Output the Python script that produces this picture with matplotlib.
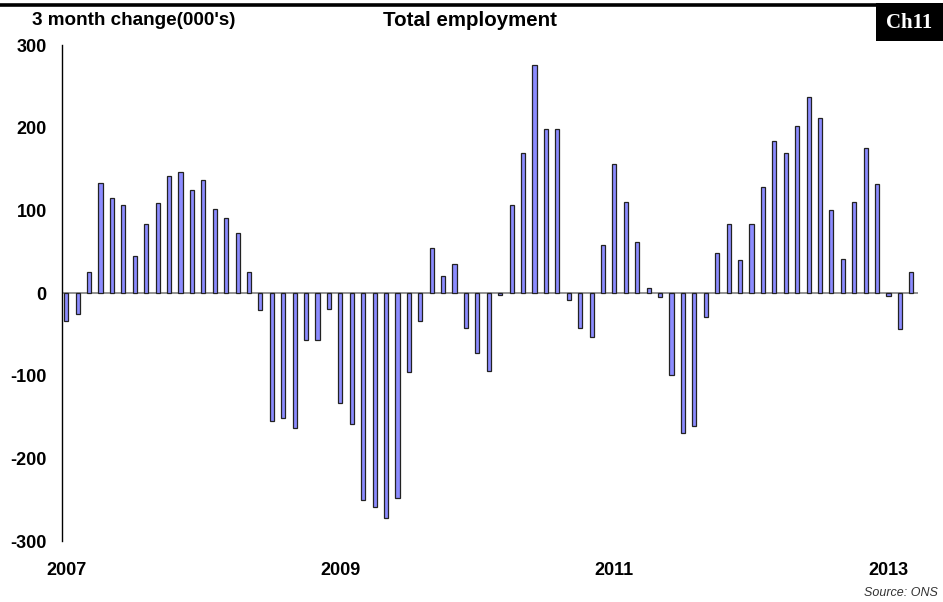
import numpy as np
import matplotlib
matplotlib.use("Agg")
import matplotlib.pyplot as plt
from matplotlib.patches import Rectangle
from matplotlib.lines import Line2D

# monthly 3 month change in total employment, Jan 2007 - Mar 2013 (000's)
changes = [
    -34, -25, 26, 133, 115, 107, 45, 84, 109, 141, 147, 125,
    137, 102, 91, 73, 26, -21, -155, -151, -163, -57, -57, -19,
    -133, -158, -250, -259, -272, -248, -95, -34, 54, 20, 35, -42,
    -73, -94, -2, 107, 169, 276, 199, 199, -9, -42, -53, 58,
    156, 110, 62, 6, -5, -99, -169, -161, -29, 48, 84, 40,
    83, 128, 184, 169, 202, 237, 212, 100, 41, 110, 175, 132,
    -3, -43, 25,
]
year_labels = ["2007", "2009", "2011", "2013"]
year_pos = [0, 24, 48, 72]
y_ticks = [-300, -200, -100, 0, 100, 200, 300]

plt.rcParams['font.family'] = ['Liberation Sans', 'DejaVu Sans']

fig = plt.figure(figsize=(9.43, 6.02), dpi=100)
ax = fig.add_axes([0.0657, 0.1013, 0.9075, 0.8239])

x = np.arange(len(changes))
ax.bar(x, changes, width=0.36, color='#8c8cff', edgecolor='#222222', linewidth=0.9, zorder=3)
ax.axhline(0, color='#8a8a8a', lw=1.3, zorder=2)

ax.set_xlim(-0.38, len(changes) - 0.44)
ax.set_ylim(-300, 300)

for s in ['top', 'right', 'bottom']:
    ax.spines[s].set_visible(False)
ax.spines['left'].set_linewidth(1.0)

ax.set_yticks(y_ticks)
ax.set_yticklabels([str(v) for v in y_ticks], fontsize=13, fontweight='bold')
ax.tick_params(axis='y', length=0, pad=11)
ax.set_xticks(year_pos)
ax.set_xticklabels(year_labels, fontsize=13, fontweight='bold')
ax.tick_params(axis='x', length=0, pad=15)

# header: rule, titles and chart number box
fig.add_artist(Line2D([0, 0.93], [0.9915, 0.9915], color='black', lw=2.6))
fig.text(0.034, 0.966, "3 month change(000's)", fontsize=13.6, fontweight='bold', va='center')
fig.text(0.498, 0.966, "Total employment", fontsize=14.8, fontweight='bold', va='center', ha='center')
fig.add_artist(Rectangle((0.929, 0.932), 0.071, 0.063, transform=fig.transFigure,
                         facecolor='black', edgecolor='none'))
fig.text(0.9645, 0.962, "Ch11", fontsize=15, fontweight='bold', color='white',
         family='Liberation Serif', ha='center', va='center')

fig.text(0.995, 0.015, "Source: ONS", fontsize=9, style='italic', color='#333333', ha='right', va='center')

fig.savefig("out.png", dpi=100)
